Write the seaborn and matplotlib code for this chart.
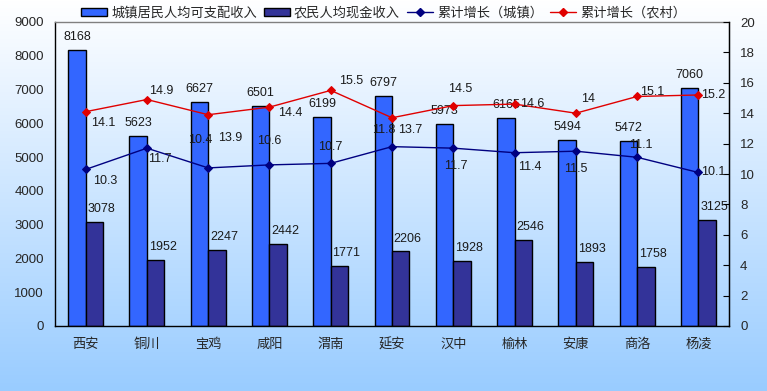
import numpy as np
import pandas as pd
import matplotlib
matplotlib.use("Agg")
import matplotlib.pyplot as plt
import seaborn as sns
from matplotlib.lines import Line2D
from matplotlib.patches import Patch

cities = ["西安", "铜川", "宝鸡", "咸阳", "渭南", "延安", "汉中", "榆林", "安康", "商洛", "杨凌"]
urban_income = [8168, 5623, 6627, 6501, 6199, 6797, 5973, 6165, 5494, 5472, 7060]
rural_income = [3078, 1952, 2247, 2442, 1771, 2206, 1928, 2546, 1893, 1758, 3125]
urban_growth = [10.3, 11.7, 10.4, 10.6, 10.7, 11.8, 11.7, 11.4, 11.5, 11.1, 10.1]
rural_growth = [14.1, 14.9, 13.9, 14.4, 15.5, 13.7, 14.5, 14.6, 14, 15.1, 15.2]
series_names = ["城镇居民人均可支配收入", "农民人均现金收入", "累计增长（城镇）", "累计增长（农村）"]

# label offsets in points (dx, dy) for growth labels
urban_lab_off = [(14, -8), (9, -8), (-6, 20), (0, 17), (0, 12), (-6, 12), (2, -13), (11, -10), (0, -13), (3, 9), (11, 0)]
rural_lab_off = [(13, -8), (10, 6), (16, -17), (15, -4), (15, 7), (13, -9), (5, 12), (13, 0), (9, 10), (11, 3), (11, 0)]

sns.set_style("white")
plt.rcParams["font.family"] = ["Liberation Sans", "Noto Sans CJK SC"]

fig = plt.figure(figsize=(7.67, 3.91), dpi=100)
# background gradient
bg = fig.add_axes([0, 0, 1, 1], zorder=-10)
grad = np.linspace(0, 1, 256).reshape(-1, 1)
top = np.array([1.0, 1.0, 1.0])
bot = np.array([153, 204, 255]) / 255
img = top[None, None, :] * (1 - grad[..., None]) + bot[None, None, :] * grad[..., None]
bg.imshow(img, aspect="auto", extent=[0, 1, 0, 1])
bg.set_axis_off()

ax = fig.add_axes([55 / 767, 1 - 326 / 391, (729 - 55) / 767, (326 - 22) / 391])
ax.patch.set_alpha(0)

df = pd.DataFrame({
    "city": cities * 2,
    "value": urban_income + rural_income,
    "series": [series_names[0]] * len(cities) + [series_names[1]] * len(cities),
})
sns.barplot(data=df, x="city", y="value", hue="series", order=cities,
            hue_order=series_names[:2], palette=["#3366FF", "#333399"],
            width=0.57, edgecolor="black", linewidth=1, ax=ax, legend=False,
            saturation=1, errorbar=None)
ax.set_xlim(-0.5, len(cities) - 0.5)
ax.set_ylim(0, 9000)
ax.set_yticks(range(0, 9001, 1000))
ax.set_xlabel("")
ax.set_ylabel("")
ax.set_xticks(np.arange(len(cities)))
ax.set_xticklabels(cities, fontsize=9.5)
ax.tick_params(axis="x", length=0, pad=9)
ax.tick_params(axis="y", length=0, labelsize=9.5, pad=8)
ax.set_xticks(np.arange(len(cities) + 1) - 0.5, minor=True)
ax.tick_params(axis="x", which="minor", direction="in", length=4, width=1, color="black")
for s in ["left", "bottom", "right"]:
    ax.spines[s].set_color("black")
    ax.spines[s].set_linewidth(1)
ax.spines["top"].set_color("#808080")
ax.spines["top"].set_linewidth(1)

# bar labels
for cont, dx in zip(ax.containers, [0, 5]):
    for bar in cont:
        h = bar.get_height()
        ax.annotate(f"{int(h)}", (bar.get_x() + bar.get_width() / 2, h),
                    xytext=(dx, 5), textcoords="offset points", ha="center",
                    va="bottom", fontsize=9, color="#1a1a1a")

ax2 = ax.twinx()
ax2.patch.set_alpha(0)
x = np.arange(len(cities))
sns.lineplot(x=x, y=urban_growth, ax=ax2, color="#000080", marker="D",
             markersize=4.5, markeredgecolor="#000080", linewidth=1)
sns.lineplot(x=x, y=rural_growth, ax=ax2, color="#E00000", marker="D",
             markersize=4.5, markeredgecolor="#E00000", linewidth=1)
ax2.set_ylim(0, 20)
ax2.set_yticks(range(0, 21, 2))
ax2.tick_params(axis="y", direction="in", length=4, labelsize=9.5, pad=8, color="black")
ax2.set_xlim(-0.5, len(cities) - 0.5)
for s in ["left", "bottom", "top"]:
    ax2.spines[s].set_visible(False)
ax2.spines["right"].set_color("black")

def fmt(v):
    return f"{v:g}"

for i, (v, off) in enumerate(zip(urban_growth, urban_lab_off)):
    ax2.annotate(fmt(v), (i, v), xytext=off, textcoords="offset points",
                 ha="center", va="center", fontsize=9, color="#1a1a1a")
for i, (v, off) in enumerate(zip(rural_growth, rural_lab_off)):
    ax2.annotate(fmt(v), (i, v), xytext=off, textcoords="offset points",
                 ha="center", va="center", fontsize=9, color="#1a1a1a")

handles = [
    Patch(facecolor="#3366FF", edgecolor="black", linewidth=1),
    Patch(facecolor="#333399", edgecolor="black", linewidth=1),
    Line2D([], [], color="#000080", marker="D", markersize=4, linewidth=1),
    Line2D([], [], color="#E00000", marker="D", markersize=4, linewidth=1),
]
fig.legend(handles, series_names, loc="upper center", bbox_to_anchor=(0.5, 1.0),
           ncol=4, frameon=False, fontsize=9.5, handlelength=2.0, handleheight=0.6,
           columnspacing=0.5, handletextpad=0.3, borderaxespad=0.1)

fig.savefig("out.png", dpi=100)
